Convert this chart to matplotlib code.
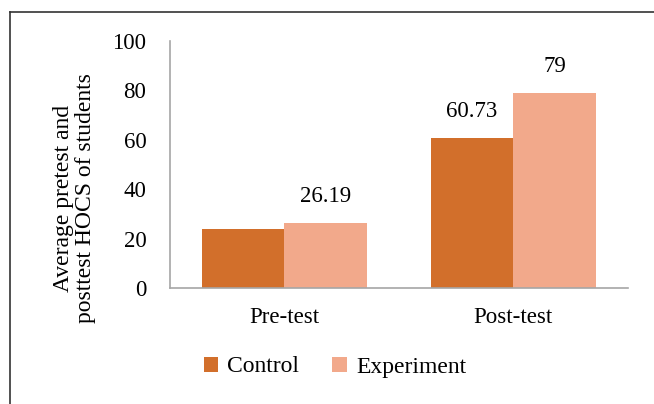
import matplotlib.pyplot as plt
import numpy as np

categories = ['Pre-test', 'Post-test']
control = [24.0, 60.73]
experiment = [26.19, 79]
control_labels = ['', '60.73']
experiment_labels = ['26.19', '79']

plt.rcParams['font.family'] = ['Liberation Serif', 'DejaVu Serif']
fs = 16.5

fig = plt.figure(figsize=(6.54, 4.04), dpi=100)
ax = fig.add_axes([0.26, 0.287, 0.70, 0.612])

x = np.arange(len(categories))
w = 0.362
b1 = ax.bar(x - w / 2, control, w, color='#D26F2B', label='Control')
b2 = ax.bar(x + w / 2, experiment, w, color='#F2A98B', label='Experiment')

for bar, lab in zip(b1, control_labels):
    if lab:
        ax.annotate(lab, (bar.get_x() + bar.get_width() / 2, bar.get_height()),
                    xytext=(0, 19), textcoords='offset points', ha='center',
                    va='center', fontsize=fs)
for bar, lab in zip(b2, experiment_labels):
    ax.annotate(lab, (bar.get_x() + bar.get_width() / 2, bar.get_height()),
                xytext=(0, 19), textcoords='offset points', ha='center',
                va='center', fontsize=fs)

ax.set_xlim(-0.5, 1.5)
ax.set_ylim(0, 100)
ax.set_yticks(range(0, 101, 20))
ax.set_xticks(x)
ax.set_xticklabels(categories, fontsize=fs)
ax.tick_params(axis='y', labelsize=fs, length=0, pad=17)
ax.tick_params(axis='x', length=0, pad=14)
for s in ['top', 'right']:
    ax.spines[s].set_visible(False)
for s in ['left', 'bottom']:
    ax.spines[s].set_color('#A6A6A6')
    ax.spines[s].set_linewidth(1.2)

fig.text(0.114, 0.51, 'Average pretest and\nposttest HOCS of students',
         rotation=90, ha='center', va='center', fontsize=17, linespacing=1.05)

ax.legend(loc='center', bbox_to_anchor=(335 / 654, 1 - 367 / 404),
          bbox_transform=fig.transFigure, ncol=2,
          frameon=False, prop={'family': 'Liberation Serif', 'size': 17},
          handlelength=0.6, handleheight=0.6,
          handletextpad=0.4, columnspacing=1.4)

# figure border (top and left visible)
fig.add_artist(plt.Line2D([10 / 654, 1], [1 - 12 / 404] * 2, color='#333333', lw=1.2))
fig.add_artist(plt.Line2D([10 / 654] * 2, [0, 1 - 12 / 404], color='#333333', lw=1.2))

fig.savefig('out.png', dpi=100)
